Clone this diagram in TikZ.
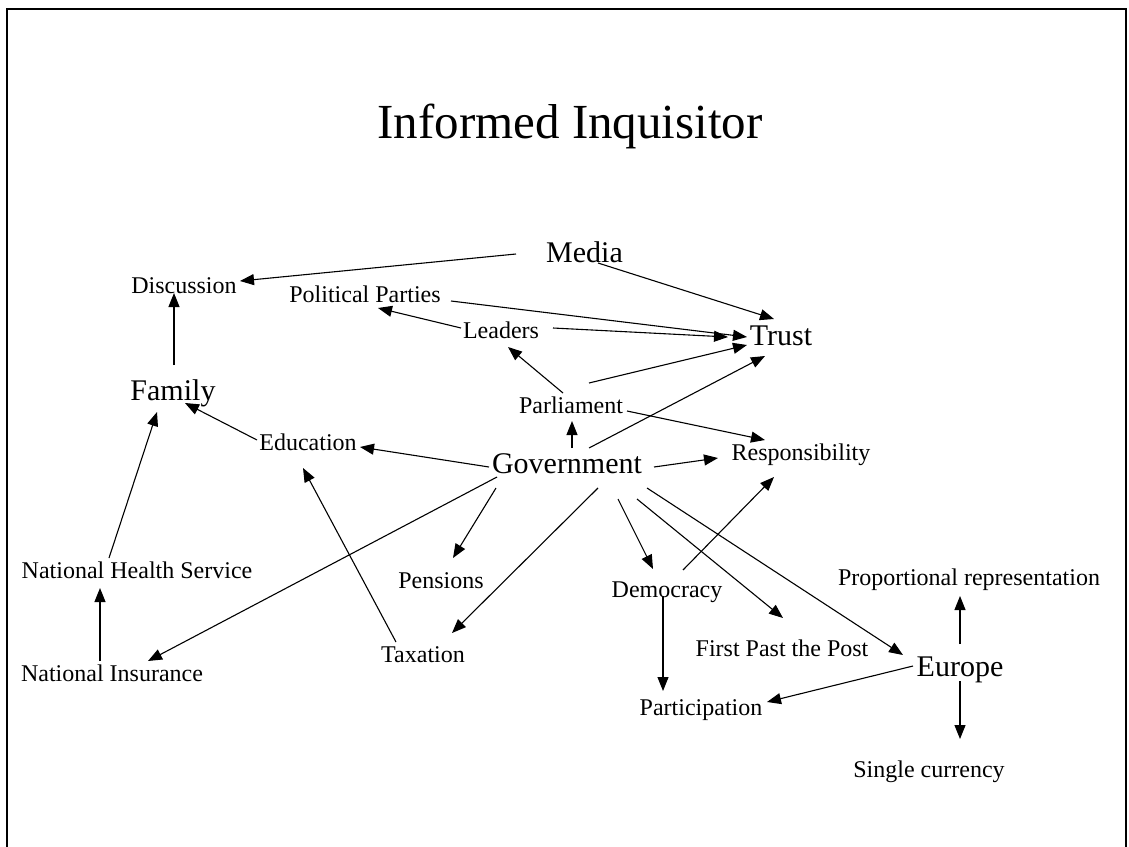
\documentclass[tikz,border=0pt]{standalone}
\usepackage{fontspec}
\setmainfont{Liberation Serif}
\usepackage{tikz}
\usetikzlibrary{arrows.meta}
\tikzset{
    bigTerm/.style={inner sep=0pt, anchor=base, font=\fontsize{30}{34}\selectfont},
    smallTerm/.style={inner sep=0pt, anchor=base, font=\fontsize{24}{28}\selectfont},
    heading/.style={inner sep=0pt, anchor=base, font=\fontsize{49}{56}\selectfont},
    arrow/.style={-{Triangle[length=14pt, width=11pt]}, line width=1.1pt},
    frame/.style={draw=black, line width=2pt}
}
\begin{document}
\begin{tikzpicture}[x=1pt, y=-1pt]
        \useasboundingbox (0,0) rectangle (1129,846);
        \draw[frame] (7,860) -- (7,9) -- (1126,9) -- (1126,860);

        \node[heading] (Title) at (570,138) {Informed Inquisitor};

        \node[bigTerm] (Media) at (584.5,262) {Media};
        \node[smallTerm] (Discussion) at (184,293) {Discussion};
        \node[smallTerm] (Parties) at (365,302) {Political Parties};
        \node[smallTerm] (Leaders) at (501,338) {Leaders};
        \node[bigTerm] (Trust) at (781,345) {Trust};
        \node[bigTerm] (Family) at (173,400) {Family};
        \node[smallTerm] (Parliament) at (571,413) {Parliament};
        \node[smallTerm] (Education) at (308,450) {Education};
        \node[smallTerm] (Resp) at (801,460) {Responsibility};
        \node[bigTerm] (Gov) at (567,473) {Government};
        \node[smallTerm] (NHS) at (137,578) {National Health Service};
        \node[smallTerm] (Pensions) at (441,588) {Pensions};
        \node[smallTerm] (Democracy) at (667,597) {Democracy};
        \node[smallTerm] (PropRep) at (969,585) {Proportional representation};
        \node[smallTerm] (FPTP) at (782,656) {First Past the Post};
        \node[bigTerm] (Europe) at (960,676) {Europe};
        \node[smallTerm] (Taxation) at (423,662) {Taxation};
        \node[smallTerm] (NatIns) at (112,681) {National Insurance};
        \node[smallTerm] (Participation) at (701,715) {Participation};
        \node[smallTerm] (SingleCur) at (929,777) {Single currency};

        % Into Trust
        \draw[arrow] ([xshift=13.5pt,yshift=-1pt]Media.base) -- ([xshift=-7pt,yshift=26pt]Trust.base);
        \draw[arrow] ([xshift=86pt,yshift=1pt]Parties.base) -- ([xshift=-34pt,yshift=8pt]Trust.base);
        \draw[arrow] ([xshift=52pt,yshift=10pt]Leaders.base) -- ([xshift=-53pt,yshift=8pt]Trust.base);
        \draw[arrow] ([xshift=18pt,yshift=30pt]Parliament.base) -- ([xshift=-34pt,yshift=0pt]Trust.base);
        \draw[arrow] ([xshift=22pt,yshift=25pt]Gov.base) -- ([xshift=-16pt,yshift=-11pt]Trust.base);

        \draw[arrow] ([xshift=-68.5pt,yshift=8pt]Media.base) -- ([xshift=56pt,yshift=12pt]Discussion.base);
        \draw[arrow] ([xshift=-40pt,yshift=10pt]Leaders.base) -- ([xshift=13pt,yshift=-6pt]Parties.base);
        \draw[arrow] ([xshift=-8pt,yshift=20pt]Parliament.base) -- ([xshift=7pt,yshift=-9pt]Leaders.base);
        \draw[arrow] ([xshift=5pt,yshift=25pt]Gov.base) -- ([xshift=1pt,yshift=-8pt]Parliament.base);
        \draw[arrow] ([xshift=56pt,yshift=2pt]Parliament.base) -- ([xshift=-36pt,yshift=20pt]Resp.base);
        \draw[arrow] ([xshift=87pt,yshift=6pt]Gov.base) -- ([xshift=-83pt,yshift=2pt]Resp.base);

        % Left side
        \draw[arrow] ([xshift=-78pt,yshift=6pt]Gov.base) -- ([xshift=52pt,yshift=3pt]Education.base);
        \draw[arrow] ([xshift=-51pt,yshift=10pt]Education.base) -- ([xshift=12pt,yshift=-3pt]Family.base);
        \draw[arrow] ([xshift=1pt,yshift=35pt]Family.base) -- ([xshift=-10pt,yshift=0pt]Discussion.base);
        \draw[arrow] ([xshift=-28pt,yshift=20pt]NHS.base) -- ([xshift=-16pt,yshift=-12pt]Family.base);
        \draw[arrow] ([xshift=-12pt,yshift=20pt]NatIns.base) -- ([xshift=-37pt,yshift=-10pt]NHS.base);
        \draw[arrow] ([xshift=-70pt,yshift=-4pt]Gov.base) -- ([xshift=36pt,yshift=20pt]NatIns.base);
        \draw[arrow] ([xshift=-71pt,yshift=-15pt]Gov.base) -- ([xshift=12pt,yshift=30pt]Pensions.base);
        \draw[arrow] ([xshift=31pt,yshift=-15pt]Gov.base) -- ([xshift=29pt,yshift=29pt]Taxation.base);
        \draw[arrow] ([xshift=-27pt,yshift=20pt]Taxation.base) -- ([xshift=-5pt,yshift=-18pt]Education.base);

        % Right side
        \draw[arrow] ([xshift=51pt,yshift=-26pt]Gov.base) -- ([xshift=-14pt,yshift=28pt]Democracy.base);
        \draw[arrow] ([xshift=70pt,yshift=-26pt]Gov.base) -- ([xshift=1pt,yshift=38pt]FPTP.base);
        \draw[arrow] ([xshift=80pt,yshift=-15pt]Gov.base) -- ([xshift=-57pt,yshift=21pt]Europe.base);
        \draw[arrow] ([xshift=16pt,yshift=27pt]Democracy.base) -- ([xshift=-27pt,yshift=-17pt]Resp.base);
        \draw[arrow] ([xshift=-4pt,yshift=1pt]Democracy.base) -- ([xshift=-38pt,yshift=24pt]Participation.base);
        \draw[arrow] ([xshift=-47pt,yshift=10pt]Europe.base) -- ([xshift=66pt,yshift=13pt]Participation.base);
        \draw[arrow] ([xshift=0pt,yshift=32pt]Europe.base) -- ([xshift=-9pt,yshift=-11pt]PropRep.base);
        \draw[arrow] ([xshift=0pt,yshift=-5pt]Europe.base) -- ([xshift=31pt,yshift=38pt]SingleCur.base);
    \end{tikzpicture}
\end{document}
